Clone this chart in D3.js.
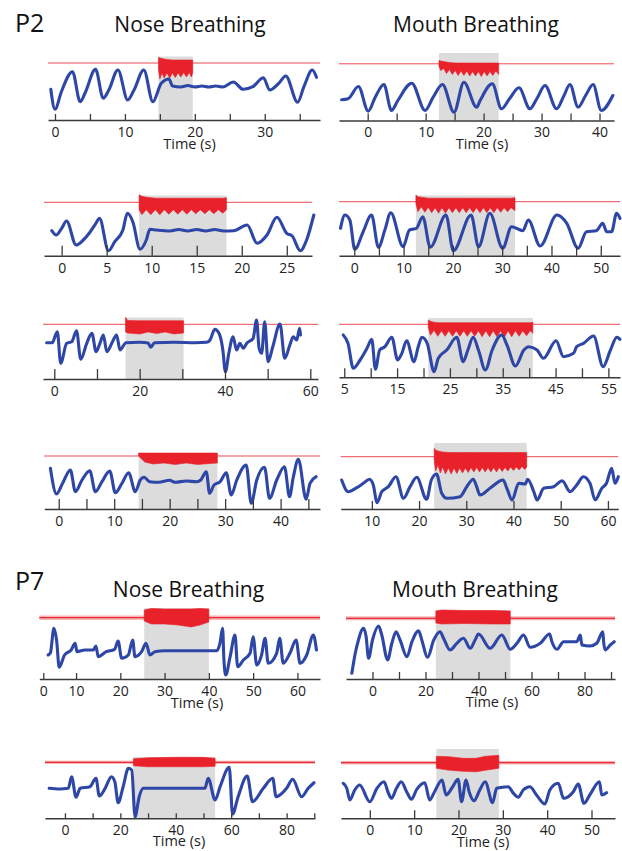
<!DOCTYPE html>
<html><head><meta charset="utf-8">
<script src="https://cdn.jsdelivr.net/npm/d3@7"></script>
<style>body{margin:0;background:#fff}svg{display:block}</style>
</head><body><svg id="c" width="622" height="851"></svg>
<script>
// ===== DATA (time in s, signal in arbitrary units) =====
// Respiration traces [time, value]
const blueP2N1 = [[-0.6,30.7],[0,10.7],[0.9,28],[2.5,48.3],[3.6,18.3],[4.3,27],[5.8,50.7],[6.9,21.7],[7.7,30],[9.0,50],[10.4,20],[11.3,30],[12.7,50],[14.0,18.3],[15.2,36.7],[16.3,41],[16.8,34],[18,33],[19,34.5],[20,33],[21,34],[22,33],[23,34],[24,33],[25.5,38],[26.9,30.7],[28.3,33.3],[29.8,42.3],[30.7,30],[32,36.7],[33,44],[34.7,17.7],[35.6,33.3],[36.8,50],[37.4,42.7]];
const blueP2M1 = [[-4.5,20.7],[-3.4,21.7],[-1.6,34],[0.1,9.3],[1.3,23.3],[2.8,36],[4.1,10],[5.2,20],[7.6,37.3],[9.9,10],[11.3,23.3],[12.9,36],[14.9,8.3],[16.6,38.3],[18.8,13.3],[19.4,20],[21.5,36.7],[23.1,11.7],[24.5,22],[26.1,32.7],[28,11.7],[29.2,22],[30.6,35],[32.6,11.7],[33.8,24],[34.9,36],[36.3,13.3],[37.6,25],[38.9,36],[40.3,10],[42.3,25]];
const blueP2N2 = [[-1.1,25],[-0.6,20.7],[0,27.4],[0.55,34.7],[1.6,10.7],[2.4,15.7],[3.1,23],[3.8,32.4],[4.2,37.4],[5.2,5],[5.9,14],[6.8,25.7],[7.3,42.4],[7.9,34],[8.7,6.4],[9.4,15.7],[9.8,26.4],[10.5,25.7],[12,24.7],[13,26.2],[14,24.7],[15,26.2],[16,24.7],[17,26.2],[18,24.7],[19.1,25],[20.6,30.7],[21.7,12.4],[22.8,20.7],[23.9,38.4],[25,22.4],[25.6,19.7],[26.5,5],[27.2,15.7],[28,40.7]];
const blueP2M2 = [[-2.8,27.4],[-1.9,40.7],[-0.9,35.7],[0.1,6.4],[1.8,24],[3.5,40.7],[4.9,8.4],[6.2,25.7],[7.4,43],[9.9,9],[11.2,25.7],[12.6,27.4],[13.9,39],[15.4,8.4],[18.6,40.7],[20.1,5],[23.7,40.7],[25.2,9],[27.5,42.4],[30.1,7.4],[31.9,29],[34.2,25],[35.3,35.7],[37.7,9.7],[41.1,40.7],[43.1,32.4],[45.4,7.4],[47.1,24],[49.1,25],[50.4,32.4],[51.2,24],[52.2,24],[53.2,42.4],[53.9,37.4]];
const blueP2N3 = [[-1.8,36.3],[-0.5,36.3],[0.7,47.3],[1.5,15.7],[2.9,35.7],[4.1,37.3],[5.2,48.3],[6.2,19.7],[7.6,35.7],[8.8,45.7],[9.8,27.3],[10.7,35.7],[11.5,44],[12.3,27.3],[13.5,36],[14.6,44],[15.4,29],[16.8,36.3],[20,36.7],[22,36],[22.6,31.7],[23.5,36.3],[28,36.7],[33,36.3],[35.7,36.7],[36.5,39],[37.6,49.7],[38.6,45.7],[39.5,29],[40.1,7.3],[40.9,25.7],[41.9,42.3],[42.7,29],[43.5,35.7],[44.3,30.7],[45.1,35.7],[46.6,40.7],[47.4,59],[48,30.7],[48.6,25.7],[49.3,57.3],[50.1,17.3],[51.2,32.3],[52.9,55],[54,20.7],[55.2,34],[56,42.3],[56.8,39],[57.5,50.7],[57.7,44]];
const blueP2M3 = [[4.8,42.3],[5.7,34],[6.7,9],[8,17.3],[9.3,29],[10.2,38],[10.9,8],[11.7,27.3],[12.7,30.6],[14,40],[15.1,17.3],[15.9,24],[16.8,36.6],[18.2,15.6],[19,30.6],[19.7,40],[20.7,34],[22,5.6],[22.8,19],[24.4,27.3],[26.3,40],[27.5,15.6],[28.4,27.3],[29.4,40],[30.4,27.3],[31.7,7.3],[33,27.3],[34.8,42.3],[35.8,32.3],[37.4,11.3],[39,27.3],[39.9,30.6],[41.5,27.3],[42.7,19],[45.1,36.6],[46.5,20.6],[48.4,24],[49,30.6],[50.3,34],[52.2,41.3],[54,10.6],[55.4,27.3],[56.6,40],[57.2,38]];
const blueP2N4 = [[-1.5,40.7],[-0.4,15],[0.7,25.7],[2.1,39],[3,17.3],[4.2,29],[5.6,38.3],[6.6,17.3],[7.8,27.3],[9.2,38],[10.2,16.3],[11.4,25.7],[12.6,36.3],[13.8,17.3],[14.7,29],[15.4,31.7],[16.4,27.3],[18,26.7],[20,28.7],[21,26.7],[23,28],[24.9,27.3],[25.6,29],[26.6,37.3],[27.2,15.7],[28,24],[29.1,27.3],[30.2,36.3],[31.1,14],[32.1,29],[33.8,44],[34.7,5.7],[35.7,29],[37.1,41.7],[38,10.7],[39.3,29],[40.7,42.3],[41.6,12.3],[42.3,32.3],[43.2,49.7],[44.6,9.7],[45.3,25.7],[46.4,32.3]];
const blueP2M4 = [[3.6,29],[5,17.3],[6.8,21.3],[8.2,25.7],[9.5,29.7],[10.3,24],[11.1,6.3],[12.1,17.3],[13.5,22.3],[15.1,32.3],[16.7,10.7],[18.1,22.3],[19.5,31.7],[21.6,9.7],[22.6,29],[23.7,35],[24.8,15.7],[25.9,10.7],[28.7,12.3],[30.1,22.3],[31.5,29.7],[32.2,22.3],[32.9,14],[35,20.7],[37.8,29],[38.6,20.7],[39.7,9],[41.1,25.7],[42.5,25],[43,29.7],[44.3,17.3],[45,9],[46.4,20.7],[48.5,22.3],[50.3,28.3],[52,17.3],[53.4,24],[54.8,32.3],[56.2,25.7],[57.3,9],[58.7,20.7],[59.7,25.7],[60.8,40.7],[61.5,25.7],[62.2,32.3]];
const blueP7N1 = [[3.7,24],[4.2,26],[5.0,50.7],[5.6,39],[6.2,11.7],[7.4,24],[8.9,29],[9.8,35.7],[10.2,27.3],[12,29],[13.9,29],[14.5,33],[15,22.3],[16.8,27.3],[18.7,29.7],[19.5,38],[20.3,20.7],[21.8,24],[22.8,39],[23.3,22.3],[24.8,27.3],[25.8,35.7],[26.7,24],[27.8,27.3],[30,28.3],[35,28.3],[41.8,28.3],[42.5,35.7],[43.1,50.7],[43.4,19],[43.8,4],[44.8,22.3],[45.9,44],[46.5,12.3],[47.8,19],[49.3,25.7],[50,42.3],[50.8,14],[51.9,24],[52.7,40.7],[53.4,15.7],[55.3,25.7],[56,40.7],[56.8,15.7],[58.3,25.7],[59.7,39],[60.6,15.7],[62.1,24],[63.6,44],[64.3,29]];
const blueP7M1 = [[-7.8,5.7],[-6.5,25.7],[-5.3,39],[-3.4,50.7],[-2.4,42.3],[-1.5,20.7],[0,39],[2.3,53],[3.5,44],[5.7,19],[7.3,35.7],[8.9,47.3],[10.4,39],[13,22.3],[14.9,37.3],[17.4,48.3],[18.6,39],[20.8,21.7],[23.1,39],[25.5,47.3],[26.8,40.7],[29.3,29],[31.8,35.7],[34.3,40.7],[36.9,30.7],[38.7,39],[40,45],[44.4,30.7],[48.8,44],[52,29.7],[54.5,35.7],[57,44],[59.5,31.7],[63.3,35.7],[66.8,45],[67.7,37.3],[69.6,29.7],[72.1,37.3],[77.1,37.3],[78.4,44],[79,34],[82.1,33],[84.6,35.7],[86.9,47.3],[87.2,37.3],[87.8,29],[89.7,34],[91.2,37.3]];
const blueP7N2 = [[-5.7,30],[-2,29.3],[1.2,30],[2.4,41.6],[4,21],[5.5,30],[9,31.6],[11.2,40],[12.4,22.3],[14.5,30],[16.8,41.6],[18,36.6],[19.2,15.6],[21,31.6],[22.9,50],[24.1,48.3],[25.3,1.6],[26.8,21.6],[28.3,30],[35,30],[45,30],[50.5,30],[51.7,40],[54.2,18.3],[56,31.6],[59.3,51],[60.5,4.3],[62.5,21.6],[65.8,42.3],[67.7,16.6],[71.6,30],[75,40],[76.2,21.6],[80,30],[82.2,39],[85.4,21.6],[87.8,30],[89.9,35.6]];
const blueP7M2 = [[-6,35],[-5.2,30],[-4.5,18.3],[-3.4,28.3],[-2.3,33.3],[0,16.6],[1.6,30],[3.2,36.6],[4.2,25],[4.9,20],[6,30],[7.1,36.6],[8.3,26.6],[9.4,19],[10.5,28.3],[12.4,35.6],[13.5,18.3],[14.6,26.6],[16.3,38.3],[17.2,23.3],[18.7,31.6],[19.9,39],[20.7,16.6],[21.7,38.3],[22.4,26.6],[23.5,17.6],[24.8,28.3],[26,36.6],[27.7,15.6],[28.6,30],[31.2,31.6],[32.4,25],[33.5,21],[34.6,28.3],[36.1,31.6],[37.6,23.3],[39.5,14.3],[40.6,28.3],[42.5,35],[43.7,20],[45.9,26.6],[47,34.3],[48.3,15],[49.6,23.3],[51.8,36.6],[52.3,23.3],[53.4,25.6]];

// Stimulation (grey window) [start, end] in s
const stimP2N1 = [14.8, 19.7];
const stimP2M1 = [12.3, 22.6];
const stimP2N2 = [8.6, 18.3];
const stimP2M2 = [12.5, 32.6];
const stimP2N3 = [16.7, 30.3];
const stimP2M3 = [20.9, 40.7];
const stimP2N4 = [14.4, 28.6];
const stimP2M4 = [23.2, 42.8];
const stimP7N1 = [25.4, 40.0];
const stimP7M1 = [23.9, 52.0];
const stimP7N2 = [24.7, 54.2];
const stimP7M2 = [15.0, 29.1];

// Red trace: resting level and its noise half-width
const redRest = {P2N1:57, P2M1:56.7, P2N2:53.4, P2M2:54, P2N3:54.7, P2M3:53, P2N4:53, P2M4:52.3, P7N1:61.3, P7M1:60.7, P7N2:56, P7M2:55.6};
const redNoise = {P2N1:0.4, P2M1:0.4, P2N2:0.4, P2M2:0.4, P2N3:0.4, P2M3:0.4, P2N4:0.4, P2M4:0.4, P7N1:2.2, P7M1:2.0, P7N2:1.6, P7M2:1.8};
// Red trace during stimulation: envelope [time, upper, lower] (lower edge follows the pulse teeth)
const bandP2N1 = [[14.8,62.7,50],[15.0,62,41],[15.3,61.5,47],[15.6,61,42],[16.0,60.5,47],[16.4,60.3,42],[16.8,60,47],[17.2,60,42.5],[17.6,60,47],[18.0,60,43],[18.4,60,47.5],[18.8,60,43],[19.2,60,47.5],[19.5,60,43],[19.7,60,47]];
const bandP2M1 = [[12.3,60,54],[12.6,59.5,50],[13.1,59,52],[13.6,58.5,47],[14.1,58,51],[14.6,57.8,46],[15.1,57.5,50],[15.6,57.5,45],[16.1,57.5,49.5],[16.6,57.5,45],[17.1,57.5,49.5],[17.6,57.5,44.5],[18.1,57.5,49],[18.6,57.5,44.5],[19.1,57.5,49],[19.6,57.5,44],[20.1,57.5,49],[20.6,57.5,44.5],[21.1,57.5,49],[21.6,57.5,45],[22.1,57.5,49.5],[22.6,57.5,46]];
const bandP2N2 = [[8.6,61,46],[8.9,59.5,41],[9.4,58.5,46],[9.9,58,41],[10.4,57.5,46],[10.9,57.5,41],[11.4,57.5,46],[11.9,57.5,41.5],[12.4,57.5,46],[12.9,57.5,41.5],[13.4,57.5,46],[13.9,57.5,41.5],[14.4,57.5,46],[14.9,57.5,42],[15.4,57.5,46],[15.9,57.5,42],[16.4,57.5,46],[16.9,57.5,42],[17.4,57.5,46],[17.9,57.5,42.5],[18.3,58,46]];
const bandP2M2 = [[12.5,60.7,52],[12.9,59,44],[13.6,58.5,49],[14.3,58,43.5],[15,57.5,48.5],[15.7,57.5,43],[16.4,57.5,48],[17.1,57.5,42.5],[17.8,57.5,48],[18.5,57.5,42.5],[19.2,57.5,48],[19.9,57.5,43],[20.6,57.5,48],[21.3,57.5,43],[22,57.5,48],[22.7,57.5,43],[23.4,57.5,48],[24.1,57.5,43],[24.8,57.5,48],[25.5,57.5,43],[26.2,57.5,48],[26.9,57.5,43],[27.6,57.5,48],[28.3,57.5,43],[29,57.5,48],[29.7,57.5,43.5],[30.4,57.5,48],[31.1,57.5,44],[31.8,57.5,48],[32.6,58,45]];
const bandP2N3 = [[16.7,61.7,47],[17.2,58.5,46],[20,58.3,45],[22,58.3,47],[24,58.3,45.5],[26,58.3,47],[28,58.3,45],[30.3,58.3,46]];
const bandP2M3 = [[20.9,57.3,50],[21.3,56,42],[22,55,47],[22.7,54.6,41],[23.4,54.6,46.5],[24.1,54.6,41],[24.8,54.6,46.5],[25.5,54.6,41],[26.2,54.6,46.5],[26.9,54.6,41],[27.6,54.6,46.5],[28.3,54.6,41],[29,54.6,46.5],[29.7,54.6,41],[30.4,54.6,46.5],[31.1,54.6,40.5],[31.8,54.6,46.5],[32.5,54.6,40.5],[33.2,54.6,46.5],[33.9,54.6,40.5],[34.6,54.6,46.5],[35.3,54.6,40],[36,54.6,46.5],[36.7,54.6,40.5],[37.4,54.6,46.5],[38.1,54.6,41],[38.8,54.6,46.5],[39.5,54.6,41.5],[40.2,54.6,46.5],[40.7,55,44]];
const bandP2N4 = [[14.4,56,53],[15.5,56,47],[17,56,45],[19,56,46],[21,56,44.5],[23,56,46],[25,56,44.5],[28.6,56,46]];
const bandP2M4 = [[23.2,60.7,48],[23.5,59,38],[24,58,44],[24.5,57.5,36],[25,57,42],[25.6,56.8,35],[26.2,56.5,41],[26.8,56.5,35],[27.4,56.5,41],[28,56.5,35.5],[28.6,56.5,41],[29.2,56.5,36],[29.8,56.5,41],[30.4,56.5,36.5],[31,56.5,41.5],[31.6,56.5,37],[32.2,56.5,41.5],[32.8,56.5,37],[33.4,56.5,41.5],[34,56.5,37],[34.6,56.5,41.5],[35.2,56.5,37],[35.8,56.5,41.5],[36.4,56.5,37],[37,56.5,41.5],[37.6,56.5,37.5],[38.2,56.5,41.5],[38.8,56.5,38],[39.4,56.5,42],[40,56.5,38.5],[40.6,56.5,42],[41.2,56.5,39],[41.8,56.5,42.5],[42.4,56.5,39.5],[42.8,56.5,42]];
const bandP7N1 = [[25.4,69,58],[27,70.5,55],[30,70,55],[33,70,54],[36,70,52],[38,70.5,54],[40,70,57]];
const bandP7M1 = [[23.9,68,56],[26,69,55],[35,68.5,55.5],[45,68.5,55],[52,68,55]];
const bandP7N2 = [[24.7,59.5,52.5],[30,60.5,51.5],[40,61,51.5],[50,61,51.5],[54.2,60,52]];
const bandP7M2 = [[15,62,50],[18,61.5,48],[21,60,47],[24,60,46.5],[26,62,48],[29.1,63,50]];

// Axis extents (s), tick positions and tick labels
const domP2N1 = [-1, 37.9],  ticksP2N1 = [0,5,10,15,20,25,30,35], labelsP2N1 = ["0","","10","","20","","30",""];
const domP2M1 = [-4.95, 42.5], ticksP2M1 = [0,5,10,15,20,25,30,35,40], labelsP2M1 = ["0","","10","","20","","30","","40"];
const domP2N2 = [-1.96, 27.8], ticksP2N2 = [0,5,10,15,20,25], labelsP2N2 = ["0","5","10","15","20","25"];
const domP2M2 = [-3.1, 53.9], ticksP2M2 = [0,5,10,15,20,25,30,35,40,45,50], labelsP2M2 = ["0","","10","","20","","30","","40","","50"];
const domP2N3 = [-2.65, 61.8], ticksP2N3 = [0,10,20,30,40,50,60], labelsP2N3 = ["0","","20","","40","","60"];
const domP2M3 = [4.0, 57.2], ticksP2M3 = [5,10,15,20,25,30,35,40,45,50,55], labelsP2M3 = ["5","","15","","25","","35","","45","","55"];
const domP2N4 = [-2.6, 47.1], ticksP2N4 = [0,5,10,15,20,25,30,35,40,45], labelsP2N4 = ["0","","10","","20","","30","","40",""];
const domP2M4 = [3.4, 62.2], ticksP2M4 = [10,20,30,40,50,60], labelsP2M4 = ["10","20","30","40","50","60"];
const domP7N1 = [1.7, 65.1], ticksP7N1 = [2.6,10,20,30,40,50,60], labelsP7N1 = ["0","10","20","30","40","50","60"];
const domP7M1 = [-10, 91.5], ticksP7M1 = [0,10,20,30,40,50,60,70,80,90], labelsP7M1 = ["0","","20","","40","","60","","80",""];
const domP7N2 = [-7.2, 90.25], ticksP7N2 = [0,10,20,30,40,50,60,70,80,90], labelsP7N2 = ["0","","20","","40","","60","","80",""];
const domP7M2 = [-6.5, 55.3], ticksP7M2 = [0,10,20,30,40,50], labelsP7M2 = ["0","10","20","30","40","50"];

const groupLabels = ["P2", "P7"];
const conditionLabels = ["Nose Breathing", "Mouth Breathing"];
const xAxisTitle = "Time (s)";

// ===== LAYOUT =====
const L = {
  P2N1:{x0:48, x1:320, y:120, tk:6, gTop:56.5, title:[189.5,149]},
  P2M1:{x0:339, x1:614, y:120.5, tk:7, gTop:53, title:[482,149]},
  P2N2:{x0:44, x1:312, y:255.7, tk:10, gTop:195.5},
  P2M2:{x0:339, x1:620, y:255.7, tk:10, gTop:195.5},
  P2N3:{x0:43, x1:318, y:379, tk:10, gTop:317.5},
  P2M3:{x0:339, x1:620, y:377.3, tk:9, gTop:318},
  P2N4:{x0:44.3, x1:320, y:509, tk:10, gTop:453},
  P2M4:{x0:340.7, x1:618.3, y:509, tk:8, gTop:443},
  P7N1:{x0:39.3, x1:320, y:679, tk:6, gTop:608, title:[197,708]},
  P7M1:{x0:346, x1:615, y:679, tk:7, gTop:610, title:[492,706.5]},
  P7N2:{x0:45, x1:315, y:818.3, tk:5, gTop:757, title:[179,845.5]},
  P7M2:{x0:341, x1:615, y:818.3, tk:8, gTop:749, title:[483,846.5]}
};

const panels = [
  ["P2N1", blueP2N1, stimP2N1, bandP2N1, domP2N1, ticksP2N1, labelsP2N1],
  ["P2M1", blueP2M1, stimP2M1, bandP2M1, domP2M1, ticksP2M1, labelsP2M1],
  ["P2N2", blueP2N2, stimP2N2, bandP2N2, domP2N2, ticksP2N2, labelsP2N2],
  ["P2M2", blueP2M2, stimP2M2, bandP2M2, domP2M2, ticksP2M2, labelsP2M2],
  ["P2N3", blueP2N3, stimP2N3, bandP2N3, domP2N3, ticksP2N3, labelsP2N3],
  ["P2M3", blueP2M3, stimP2M3, bandP2M3, domP2M3, ticksP2M3, labelsP2M3],
  ["P2N4", blueP2N4, stimP2N4, bandP2N4, domP2N4, ticksP2N4, labelsP2N4],
  ["P2M4", blueP2M4, stimP2M4, bandP2M4, domP2M4, ticksP2M4, labelsP2M4],
  ["P7N1", blueP7N1, stimP7N1, bandP7N1, domP7N1, ticksP7N1, labelsP7N1],
  ["P7M1", blueP7M1, stimP7M1, bandP7M1, domP7M1, ticksP7M1, labelsP7M1],
  ["P7N2", blueP7N2, stimP7N2, bandP7N2, domP7N2, ticksP7N2, labelsP7N2],
  ["P7M2", blueP7M2, stimP7M2, bandP7M2, domP7M2, ticksP7M2, labelsP7M2]
];

const FONT = "'Open Sans', 'Noto Sans', sans-serif";
const BLUE = "#2e47a6", RED = "#e8212b", GREY = "#dcdcdc", AX = "#3a3a3a";
const svg = d3.select("#c");

panels.forEach(([id, blue, stim, band, dom, ticks, labels]) => {
  const lay = L[id];
  const x = d3.scaleLinear().domain(dom).range([lay.x0, lay.x1]);
  const y = d3.scaleLinear().domain([0, 100]).range([lay.y, lay.y - 100]);
  const g = svg.append("g");

  // stimulation window
  g.append("rect")
    .attr("x", x(stim[0])).attr("width", x(stim[1]) - x(stim[0]))
    .attr("y", lay.gTop).attr("height", lay.y - lay.gTop)
    .attr("fill", GREY);

  // red resting trace (noisy band + centre line)
  const rest = redRest[id], nz = redNoise[id];
  if (nz > 1) {
    g.append("rect")
      .attr("x", x(dom[0])).attr("width", x(dom[1]) - x(dom[0]))
      .attr("y", y(rest + nz)).attr("height", y(rest - nz) - y(rest + nz))
      .attr("fill", RED).attr("opacity", 0.35);
  }
  g.append("line")
    .attr("x1", x(dom[0])).attr("x2", x(dom[1]))
    .attr("y1", y(rest)).attr("y2", y(rest))
    .attr("stroke", RED).attr("stroke-width", nz > 1 ? 1.3 : 0.9).attr("opacity", 0.9);

  // red trace during stimulation
  g.append("path").datum(band)
    .attr("d", d3.area().x(d => x(d[0])).y0(d => y(d[2])).y1(d => y(d[1])).curve(d3.curveLinear))
    .attr("fill", RED).attr("stroke", RED).attr("stroke-width", 0.6).attr("stroke-linejoin", "round");

  // respiration trace
  g.append("path").datum(blue)
    .attr("d", d3.line().x(d => x(d[0])).y(d => y(d[1])).curve(d3.curveMonotoneX))
    .attr("fill", "none").attr("stroke", BLUE).attr("stroke-width", 3.1)
    .attr("stroke-linejoin", "round").attr("stroke-linecap", "round");

  // axis
  const ax = d3.axisBottom(x).tickValues(ticks)
    .tickFormat((d, i) => labels[i]).tickSize(-lay.tk).tickSizeOuter(0).tickPadding(7);
  const ag = g.append("g").attr("transform", `translate(0,${lay.y})`).call(ax);
  ag.select(".domain").attr("stroke", AX).attr("stroke-width", 1.6);
  ag.selectAll(".tick line").attr("stroke", AX).attr("stroke-width", 1.3);
  ag.selectAll(".tick text").attr("fill", "#222").style("font-family", FONT).style("font-size", "14px");

  if (lay.title) {
    g.append("text").attr("x", lay.title[0]).attr("y", lay.title[1])
      .attr("text-anchor", "middle").attr("fill", "#222")
      .style("font-family", FONT).style("font-size", "14.5px").text(xAxisTitle);
  }
});

// group and condition headings
const heads = [
  {t: groupLabels[0], x: 15, y: 32, s: 25, a: "start"},
  {t: conditionLabels[0], x: 190, y: 31.5, s: 21, a: "middle"},
  {t: conditionLabels[1], x: 476, y: 31.5, s: 21, a: "middle"},
  {t: groupLabels[1], x: 15, y: 590, s: 25, a: "start"},
  {t: conditionLabels[0], x: 188.5, y: 596.5, s: 21, a: "middle"},
  {t: conditionLabels[1], x: 475, y: 596.5, s: 21, a: "middle"}
];
svg.selectAll("text.head").data(heads).enter().append("text").attr("class", "head")
  .attr("x", d => d.x).attr("y", d => d.y).attr("text-anchor", d => d.a)
  .attr("fill", "#111").style("font-family", FONT).style("font-size", d => d.s + "px")
  .text(d => d.t);
</script></body></html>
